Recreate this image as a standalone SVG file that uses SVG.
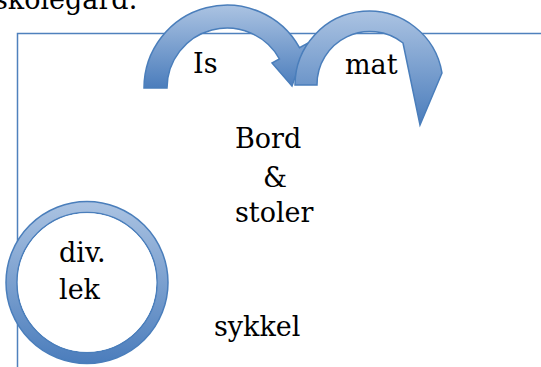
<svg xmlns="http://www.w3.org/2000/svg" width="541" height="367" viewBox="0 0 541 367">
<defs>
<linearGradient id="gA" x1="0" y1="0" x2="0" y2="1">
<stop offset="0" stop-color="#abc3e2"/>
<stop offset="1" stop-color="#4b7dbc"/>
</linearGradient>
<style>
.t{font-family:"DejaVu Serif","Liberation Serif",serif;font-size:27px;fill:#000}
.sh{fill:url(#gA);stroke:#4a7ebb;stroke-width:1.5;stroke-linejoin:miter}
</style>
</defs>
<rect width="541" height="367" fill="#fff"/>
<text class="t" x="-6" y="9">skolegard.</text>
<g id="frame">
<path d="M17.5,367 V33.5 H541" fill="none" stroke="#4f81bd" stroke-width="1.5"/>
</g>
<g id="connectors">
<g id="arrow-is">
<path class="sh" d="M144,88 A83,83 0 0 1 299.5,47.7 L307,43.6 L292,86 L272,63 L279.4,58.9 A60,60 0 0 0 167,88 Z"/>
</g>
<g id="arrow-mat">
<path class="sh" d="M295,85 A74,74 0 0 1 442,73 L420,125 L403,43 A53,53 0 0 0 317,85 Z"/>
</g>
</g>
<g id="label-is"><text class="t" x="193" y="73">Is</text></g>
<g id="label-mat"><text class="t" x="345" y="74">mat</text></g>
<g id="node-bord">
<text class="t" x="235" y="148">Bord</text>
<text class="t" x="263" y="187">&amp;</text>
<text class="t" x="235" y="222">stoler</text>
</g>
<g id="node-lek">
<path d="M6,282.5 A81,81 0 1 1 168,282.5 A81,81 0 1 1 6,282.5 Z M17,282.5 A70,70 0 1 0 157,282.5 A70,70 0 1 0 17,282.5 Z" fill="url(#gA)" fill-rule="evenodd" stroke="#4a7ebb" stroke-width="1.5"/>
<circle cx="87" cy="282.5" r="69.3" fill="#fff"/>
<text class="t" x="59" y="262">div.</text>
<text class="t" x="59" y="299">lek</text>
</g>
<g id="node-sykkel"><text class="t" x="214" y="336">sykkel</text></g>
</svg>
